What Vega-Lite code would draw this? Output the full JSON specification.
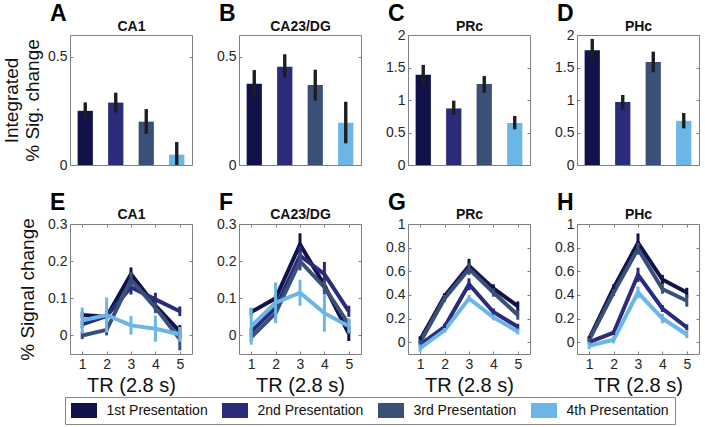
{
  "$schema": "https://vega.github.io/schema/vega-lite/v6.json",
  "padding": {"left": 2, "top": 2, "right": 0, "bottom": 0},
  "background": "white",
  "datasets": {
    "bars": [
      {"region": "CA1", "presentation": "1st Presentation", "value": 0.25, "lo": 0.208, "hi": 0.289},
      {"region": "CA1", "presentation": "2nd Presentation", "value": 0.288, "lo": 0.242, "hi": 0.334},
      {"region": "CA1", "presentation": "3rd Presentation", "value": 0.2, "lo": 0.143, "hi": 0.258},
      {"region": "CA1", "presentation": "4th Presentation", "value": 0.048, "lo": 0.0, "hi": 0.106},
      {"region": "CA23/DG", "presentation": "1st Presentation", "value": 0.375, "lo": 0.308, "hi": 0.438},
      {"region": "CA23/DG", "presentation": "2nd Presentation", "value": 0.454, "lo": 0.403, "hi": 0.511},
      {"region": "CA23/DG", "presentation": "3rd Presentation", "value": 0.369, "lo": 0.298, "hi": 0.44},
      {"region": "CA23/DG", "presentation": "4th Presentation", "value": 0.195, "lo": 0.1, "hi": 0.292},
      {"region": "PRc", "presentation": "1st Presentation", "value": 1.39, "lo": 1.23, "hi": 1.54},
      {"region": "PRc", "presentation": "2nd Presentation", "value": 0.87, "lo": 0.77, "hi": 0.99},
      {"region": "PRc", "presentation": "3rd Presentation", "value": 1.246, "lo": 1.11, "hi": 1.37},
      {"region": "PRc", "presentation": "4th Presentation", "value": 0.646, "lo": 0.549, "hi": 0.754},
      {"region": "PHc", "presentation": "1st Presentation", "value": 1.764, "lo": 1.58, "hi": 1.94},
      {"region": "PHc", "presentation": "2nd Presentation", "value": 0.97, "lo": 0.846, "hi": 1.077},
      {"region": "PHc", "presentation": "3rd Presentation", "value": 1.585, "lo": 1.426, "hi": 1.744},
      {"region": "PHc", "presentation": "4th Presentation", "value": 0.68, "lo": 0.564, "hi": 0.8}
    ],
    "lines": [
      {"region": "CA1", "presentation": "1st Presentation", "tr": 1, "value": 0.055, "lo": 0.047, "hi": 0.063},
      {"region": "CA1", "presentation": "1st Presentation", "tr": 2, "value": 0.05, "lo": 0.04, "hi": 0.06},
      {"region": "CA1", "presentation": "1st Presentation", "tr": 3, "value": 0.165, "lo": 0.147, "hi": 0.183},
      {"region": "CA1", "presentation": "1st Presentation", "tr": 4, "value": 0.08, "lo": 0.068, "hi": 0.092},
      {"region": "CA1", "presentation": "1st Presentation", "tr": 5, "value": 0.01, "lo": -0.008, "hi": 0.028},
      {"region": "CA1", "presentation": "2nd Presentation", "tr": 1, "value": 0.03, "lo": 0.02, "hi": 0.04},
      {"region": "CA1", "presentation": "2nd Presentation", "tr": 2, "value": 0.052, "lo": 0.042, "hi": 0.062},
      {"region": "CA1", "presentation": "2nd Presentation", "tr": 3, "value": 0.13, "lo": 0.11, "hi": 0.15},
      {"region": "CA1", "presentation": "2nd Presentation", "tr": 4, "value": 0.097, "lo": 0.079, "hi": 0.115},
      {"region": "CA1", "presentation": "2nd Presentation", "tr": 5, "value": 0.065, "lo": 0.052, "hi": 0.078},
      {"region": "CA1", "presentation": "3rd Presentation", "tr": 1, "value": 0.0, "lo": -0.01, "hi": 0.01},
      {"region": "CA1", "presentation": "3rd Presentation", "tr": 2, "value": 0.015, "lo": 0.0, "hi": 0.03},
      {"region": "CA1", "presentation": "3rd Presentation", "tr": 3, "value": 0.15, "lo": 0.13, "hi": 0.17},
      {"region": "CA1", "presentation": "3rd Presentation", "tr": 4, "value": 0.075, "lo": 0.06, "hi": 0.09},
      {"region": "CA1", "presentation": "3rd Presentation", "tr": 5, "value": -0.01, "lo": -0.04, "hi": 0.02},
      {"region": "CA1", "presentation": "4th Presentation", "tr": 1, "value": 0.04, "lo": 0.005, "hi": 0.075},
      {"region": "CA1", "presentation": "4th Presentation", "tr": 2, "value": 0.055, "lo": 0.008, "hi": 0.102},
      {"region": "CA1", "presentation": "4th Presentation", "tr": 3, "value": 0.027, "lo": 0.002, "hi": 0.052},
      {"region": "CA1", "presentation": "4th Presentation", "tr": 4, "value": 0.018, "lo": -0.017, "hi": 0.053},
      {"region": "CA1", "presentation": "4th Presentation", "tr": 5, "value": 0.003, "lo": -0.017, "hi": 0.023},
      {"region": "CA23/DG", "presentation": "1st Presentation", "tr": 1, "value": 0.063, "lo": 0.053, "hi": 0.073},
      {"region": "CA23/DG", "presentation": "1st Presentation", "tr": 2, "value": 0.1, "lo": 0.09, "hi": 0.11},
      {"region": "CA23/DG", "presentation": "1st Presentation", "tr": 3, "value": 0.245, "lo": 0.215, "hi": 0.275},
      {"region": "CA23/DG", "presentation": "1st Presentation", "tr": 4, "value": 0.135, "lo": 0.12, "hi": 0.15},
      {"region": "CA23/DG", "presentation": "1st Presentation", "tr": 5, "value": 0.005, "lo": -0.015, "hi": 0.025},
      {"region": "CA23/DG", "presentation": "2nd Presentation", "tr": 1, "value": 0.01, "lo": 0.0, "hi": 0.02},
      {"region": "CA23/DG", "presentation": "2nd Presentation", "tr": 2, "value": 0.075, "lo": 0.063, "hi": 0.087},
      {"region": "CA23/DG", "presentation": "2nd Presentation", "tr": 3, "value": 0.215, "lo": 0.19, "hi": 0.24},
      {"region": "CA23/DG", "presentation": "2nd Presentation", "tr": 4, "value": 0.165, "lo": 0.132, "hi": 0.198},
      {"region": "CA23/DG", "presentation": "2nd Presentation", "tr": 5, "value": 0.065, "lo": 0.05, "hi": 0.08},
      {"region": "CA23/DG", "presentation": "3rd Presentation", "tr": 1, "value": -0.005, "lo": -0.015, "hi": 0.005},
      {"region": "CA23/DG", "presentation": "3rd Presentation", "tr": 2, "value": 0.06, "lo": 0.045, "hi": 0.075},
      {"region": "CA23/DG", "presentation": "3rd Presentation", "tr": 3, "value": 0.2, "lo": 0.175, "hi": 0.225},
      {"region": "CA23/DG", "presentation": "3rd Presentation", "tr": 4, "value": 0.13, "lo": 0.11, "hi": 0.15},
      {"region": "CA23/DG", "presentation": "3rd Presentation", "tr": 5, "value": 0.03, "lo": 0.015, "hi": 0.045},
      {"region": "CA23/DG", "presentation": "4th Presentation", "tr": 1, "value": 0.025, "lo": -0.025, "hi": 0.075},
      {"region": "CA23/DG", "presentation": "4th Presentation", "tr": 2, "value": 0.088, "lo": 0.033, "hi": 0.143},
      {"region": "CA23/DG", "presentation": "4th Presentation", "tr": 3, "value": 0.115, "lo": 0.08, "hi": 0.15},
      {"region": "CA23/DG", "presentation": "4th Presentation", "tr": 4, "value": 0.06, "lo": 0.01, "hi": 0.11},
      {"region": "CA23/DG", "presentation": "4th Presentation", "tr": 5, "value": 0.025, "lo": 0.005, "hi": 0.045},
      {"region": "PRc", "presentation": "1st Presentation", "tr": 1, "value": 0.02, "lo": -0.01, "hi": 0.05},
      {"region": "PRc", "presentation": "1st Presentation", "tr": 2, "value": 0.39, "lo": 0.365, "hi": 0.415},
      {"region": "PRc", "presentation": "1st Presentation", "tr": 3, "value": 0.645, "lo": 0.585, "hi": 0.705},
      {"region": "PRc", "presentation": "1st Presentation", "tr": 4, "value": 0.455, "lo": 0.42, "hi": 0.49},
      {"region": "PRc", "presentation": "1st Presentation", "tr": 5, "value": 0.305, "lo": 0.265, "hi": 0.345},
      {"region": "PRc", "presentation": "2nd Presentation", "tr": 1, "value": -0.02, "lo": -0.04, "hi": 0.0},
      {"region": "PRc", "presentation": "2nd Presentation", "tr": 2, "value": 0.13, "lo": 0.105, "hi": 0.155},
      {"region": "PRc", "presentation": "2nd Presentation", "tr": 3, "value": 0.49, "lo": 0.44, "hi": 0.54},
      {"region": "PRc", "presentation": "2nd Presentation", "tr": 4, "value": 0.255, "lo": 0.225, "hi": 0.285},
      {"region": "PRc", "presentation": "2nd Presentation", "tr": 5, "value": 0.13, "lo": 0.105, "hi": 0.155},
      {"region": "PRc", "presentation": "3rd Presentation", "tr": 1, "value": 0.0, "lo": -0.02, "hi": 0.02},
      {"region": "PRc", "presentation": "3rd Presentation", "tr": 2, "value": 0.37, "lo": 0.34, "hi": 0.4},
      {"region": "PRc", "presentation": "3rd Presentation", "tr": 3, "value": 0.62, "lo": 0.57, "hi": 0.67},
      {"region": "PRc", "presentation": "3rd Presentation", "tr": 4, "value": 0.42, "lo": 0.385, "hi": 0.455},
      {"region": "PRc", "presentation": "3rd Presentation", "tr": 5, "value": 0.23, "lo": 0.19, "hi": 0.27},
      {"region": "PRc", "presentation": "4th Presentation", "tr": 1, "value": -0.05, "lo": -0.08, "hi": -0.02},
      {"region": "PRc", "presentation": "4th Presentation", "tr": 2, "value": 0.1, "lo": 0.08, "hi": 0.12},
      {"region": "PRc", "presentation": "4th Presentation", "tr": 3, "value": 0.37, "lo": 0.34, "hi": 0.4},
      {"region": "PRc", "presentation": "4th Presentation", "tr": 4, "value": 0.21, "lo": 0.185, "hi": 0.235},
      {"region": "PRc", "presentation": "4th Presentation", "tr": 5, "value": 0.09, "lo": 0.065, "hi": 0.115},
      {"region": "PHc", "presentation": "1st Presentation", "tr": 1, "value": 0.03, "lo": 0.01, "hi": 0.05},
      {"region": "PHc", "presentation": "1st Presentation", "tr": 2, "value": 0.46, "lo": 0.43, "hi": 0.49},
      {"region": "PHc", "presentation": "1st Presentation", "tr": 3, "value": 0.84, "lo": 0.76, "hi": 0.92},
      {"region": "PHc", "presentation": "1st Presentation", "tr": 4, "value": 0.53, "lo": 0.49, "hi": 0.57},
      {"region": "PHc", "presentation": "1st Presentation", "tr": 5, "value": 0.42, "lo": 0.38, "hi": 0.46},
      {"region": "PHc", "presentation": "2nd Presentation", "tr": 1, "value": 0.0, "lo": -0.02, "hi": 0.02},
      {"region": "PHc", "presentation": "2nd Presentation", "tr": 2, "value": 0.08, "lo": 0.06, "hi": 0.1},
      {"region": "PHc", "presentation": "2nd Presentation", "tr": 3, "value": 0.57, "lo": 0.51, "hi": 0.63},
      {"region": "PHc", "presentation": "2nd Presentation", "tr": 4, "value": 0.285, "lo": 0.255, "hi": 0.315},
      {"region": "PHc", "presentation": "2nd Presentation", "tr": 5, "value": 0.125, "lo": 0.1, "hi": 0.15},
      {"region": "PHc", "presentation": "3rd Presentation", "tr": 1, "value": 0.02, "lo": 0.0, "hi": 0.04},
      {"region": "PHc", "presentation": "3rd Presentation", "tr": 2, "value": 0.42, "lo": 0.39, "hi": 0.45},
      {"region": "PHc", "presentation": "3rd Presentation", "tr": 3, "value": 0.79, "lo": 0.74, "hi": 0.84},
      {"region": "PHc", "presentation": "3rd Presentation", "tr": 4, "value": 0.45, "lo": 0.41, "hi": 0.49},
      {"region": "PHc", "presentation": "3rd Presentation", "tr": 5, "value": 0.35, "lo": 0.3, "hi": 0.4},
      {"region": "PHc", "presentation": "4th Presentation", "tr": 1, "value": -0.03, "lo": -0.06, "hi": 0.0},
      {"region": "PHc", "presentation": "4th Presentation", "tr": 2, "value": 0.02, "lo": -0.01, "hi": 0.05},
      {"region": "PHc", "presentation": "4th Presentation", "tr": 3, "value": 0.42, "lo": 0.37, "hi": 0.47},
      {"region": "PHc", "presentation": "4th Presentation", "tr": 4, "value": 0.2, "lo": 0.16, "hi": 0.24},
      {"region": "PHc", "presentation": "4th Presentation", "tr": 5, "value": 0.065, "lo": 0.035, "hi": 0.095}
    ]
  },
  "columns": 4,
  "spacing": {"row": 59, "column": 47},
  "bounds": "flush",
  "concat": [
    {
      "width": 122, "height": 130,
      "title": {"text": "A"},
      "data": {"name": "bars"},
      "transform": [{"filter": "datum.region === 'CA1'"}],
      "encoding": {"x": {"field": "presentation", "type": "nominal", "scale": {"paddingInner": 0.5, "paddingOuter": 0.25}, "axis": {"orient": "top", "title": "CA1", "labels": false, "ticks": false, "titleFontSize": 14, "titleFontWeight": "bold", "titlePadding": 2}}},
      "layer": [
        {"mark": "bar", "encoding": {
          "y": {"field": "value", "type": "quantitative", "scale": {"domain": [0, 0.6]}, "axis": {"values": [0, 0.5], "title": ["Integrated", "% Sig. change"], "titlePadding": 5}},
          "color": {"field": "presentation", "type": "nominal", "scale": {"domain": ["1st Presentation", "2nd Presentation", "3rd Presentation", "4th Presentation"], "range": ["#10124a", "#2b2b7b", "#3b5079", "#6bb6e6"]}, "legend": {"orient": "none", "legendX": -5, "legendY": 362, "direction": "horizontal", "columns": 4, "title": null}}}},
        {"mark": {"type": "rule", "strokeWidth": 3.4, "color": "#1e1e1e"}, "encoding": {"y": {"field": "lo", "type": "quantitative", "axis": {"orient": "right", "values": [0, 0.5], "labels": false, "title": null}}, "y2": {"field": "hi"}}}
      ],
      "resolve": {"axis": {"y": "independent"}}
    },
    {
      "width": 122, "height": 130,
      "title": {"text": "B"},
      "data": {"name": "bars"},
      "transform": [{"filter": "datum.region === 'CA23/DG'"}],
      "encoding": {"x": {"field": "presentation", "type": "nominal", "scale": {"paddingInner": 0.5, "paddingOuter": 0.25}, "axis": {"orient": "top", "title": "CA23/DG", "labels": false, "ticks": false, "titleFontSize": 14, "titleFontWeight": "bold", "titlePadding": 2}}},
      "layer": [
        {"mark": "bar", "encoding": {
          "y": {"field": "value", "type": "quantitative", "scale": {"domain": [0, 0.6]}, "axis": {"values": [0, 0.5], "title": null}},
          "color": {"field": "presentation", "type": "nominal", "legend": null}}},
        {"mark": {"type": "rule", "strokeWidth": 3.4, "color": "#1e1e1e"}, "encoding": {"y": {"field": "lo", "type": "quantitative", "axis": {"orient": "right", "values": [0, 0.5], "labels": false, "title": null}}, "y2": {"field": "hi"}}}
      ],
      "resolve": {"axis": {"y": "independent"}}
    },
    {
      "width": 122, "height": 130,
      "title": {"text": "C"},
      "data": {"name": "bars"},
      "transform": [{"filter": "datum.region === 'PRc'"}],
      "encoding": {"x": {"field": "presentation", "type": "nominal", "scale": {"paddingInner": 0.5, "paddingOuter": 0.25}, "axis": {"orient": "top", "title": "PRc", "labels": false, "ticks": false, "titleFontSize": 14, "titleFontWeight": "bold", "titlePadding": 2}}},
      "layer": [
        {"mark": "bar", "encoding": {
          "y": {"field": "value", "type": "quantitative", "scale": {"domain": [0, 2]}, "axis": {"values": [0, 0.5, 1, 1.5, 2], "title": null, "labelOverlap": false}},
          "color": {"field": "presentation", "type": "nominal", "legend": null}}},
        {"mark": {"type": "rule", "strokeWidth": 3.4, "color": "#1e1e1e"}, "encoding": {"y": {"field": "lo", "type": "quantitative", "axis": {"orient": "right", "values": [0, 0.5, 1, 1.5, 2], "labels": false, "title": null}}, "y2": {"field": "hi"}}}
      ],
      "resolve": {"axis": {"y": "independent"}}
    },
    {
      "width": 122, "height": 130,
      "title": {"text": "D"},
      "data": {"name": "bars"},
      "transform": [{"filter": "datum.region === 'PHc'"}],
      "encoding": {"x": {"field": "presentation", "type": "nominal", "scale": {"paddingInner": 0.5, "paddingOuter": 0.25}, "axis": {"orient": "top", "title": "PHc", "labels": false, "ticks": false, "titleFontSize": 14, "titleFontWeight": "bold", "titlePadding": 2}}},
      "layer": [
        {"mark": "bar", "encoding": {
          "y": {"field": "value", "type": "quantitative", "scale": {"domain": [0, 2]}, "axis": {"values": [0, 0.5, 1, 1.5, 2], "title": null, "labelOverlap": false}},
          "color": {"field": "presentation", "type": "nominal", "legend": null}}},
        {"mark": {"type": "rule", "strokeWidth": 3.4, "color": "#1e1e1e"}, "encoding": {"y": {"field": "lo", "type": "quantitative", "axis": {"orient": "right", "values": [0, 0.5, 1, 1.5, 2], "labels": false, "title": null}}, "y2": {"field": "hi"}}}
      ],
      "resolve": {"axis": {"y": "independent"}}
    },
    {
      "width": 122, "height": 130,
      "title": {"text": "E"},
      "data": {"name": "lines"},
      "transform": [{"filter": "datum.region === 'CA1'"}],
      "layer": [
        {"mark": {"type": "line", "strokeWidth": 4}, "encoding": {
          "x": {"field": "tr", "type": "quantitative", "scale": {"domain": [0.5, 5.5]}, "axis": {"values": [1, 2, 3, 4, 5], "title": "TR (2.8 s)", "titleFontSize": 20}},
          "y": {"field": "value", "type": "quantitative", "scale": {"domain": [-0.05, 0.3]}, "axis": {"values": [0, 0.1, 0.2, 0.3], "title": "% Signal change", "titlePadding": 10, "labelOverlap": false}},
          "stroke": {"field": "presentation", "type": "nominal", "scale": {"domain": ["1st Presentation", "2nd Presentation", "3rd Presentation", "4th Presentation"], "range": ["#10124a", "#2b2b7b", "#3b5079", "#6bb6e6"]}, "legend": null}}},
        {"mark": {"type": "rule", "strokeWidth": 3}, "encoding": {
          "x": {"field": "tr", "type": "quantitative", "axis": {"orient": "top", "values": [1, 2, 3, 4, 5], "labels": false, "title": "CA1", "titleFontSize": 14, "titleFontWeight": "bold", "titlePadding": 2}},
          "y": {"field": "lo", "type": "quantitative", "axis": {"orient": "right", "values": [0, 0.1, 0.2, 0.3], "labels": false, "title": null}}, "y2": {"field": "hi"},
          "stroke": {"field": "presentation", "type": "nominal", "legend": null}}}
      ],
      "resolve": {"axis": {"x": "independent", "y": "independent"}}
    },
    {
      "width": 122, "height": 130,
      "title": {"text": "F"},
      "data": {"name": "lines"},
      "transform": [{"filter": "datum.region === 'CA23/DG'"}],
      "layer": [
        {"mark": {"type": "line", "strokeWidth": 4}, "encoding": {
          "x": {"field": "tr", "type": "quantitative", "scale": {"domain": [0.5, 5.5]}, "axis": {"values": [1, 2, 3, 4, 5], "title": "TR (2.8 s)", "titleFontSize": 20}},
          "y": {"field": "value", "type": "quantitative", "scale": {"domain": [-0.05, 0.3]}, "axis": {"values": [0, 0.1, 0.2, 0.3], "title": null, "labelOverlap": false}},
          "stroke": {"field": "presentation", "type": "nominal", "legend": null}}},
        {"mark": {"type": "rule", "strokeWidth": 3}, "encoding": {
          "x": {"field": "tr", "type": "quantitative", "axis": {"orient": "top", "values": [1, 2, 3, 4, 5], "labels": false, "title": "CA23/DG", "titleFontSize": 14, "titleFontWeight": "bold", "titlePadding": 2}},
          "y": {"field": "lo", "type": "quantitative", "axis": {"orient": "right", "values": [0, 0.1, 0.2, 0.3], "labels": false, "title": null}}, "y2": {"field": "hi"},
          "stroke": {"field": "presentation", "type": "nominal", "legend": null}}}
      ],
      "resolve": {"axis": {"x": "independent", "y": "independent"}}
    },
    {
      "width": 122, "height": 130,
      "title": {"text": "G"},
      "data": {"name": "lines"},
      "transform": [{"filter": "datum.region === 'PRc'"}],
      "layer": [
        {"mark": {"type": "line", "strokeWidth": 4}, "encoding": {
          "x": {"field": "tr", "type": "quantitative", "scale": {"domain": [0.5, 5.5]}, "axis": {"values": [1, 2, 3, 4, 5], "title": "TR (2.8 s)", "titleFontSize": 20}},
          "y": {"field": "value", "type": "quantitative", "scale": {"domain": [-0.1, 1]}, "axis": {"values": [0, 0.2, 0.4, 0.6, 0.8, 1], "title": null, "labelOverlap": false}},
          "stroke": {"field": "presentation", "type": "nominal", "legend": null}}},
        {"mark": {"type": "rule", "strokeWidth": 3}, "encoding": {
          "x": {"field": "tr", "type": "quantitative", "axis": {"orient": "top", "values": [1, 2, 3, 4, 5], "labels": false, "title": "PRc", "titleFontSize": 14, "titleFontWeight": "bold", "titlePadding": 2}},
          "y": {"field": "lo", "type": "quantitative", "axis": {"orient": "right", "values": [0, 0.2, 0.4, 0.6, 0.8, 1], "labels": false, "title": null}}, "y2": {"field": "hi"},
          "stroke": {"field": "presentation", "type": "nominal", "legend": null}}}
      ],
      "resolve": {"axis": {"x": "independent", "y": "independent"}}
    },
    {
      "width": 122, "height": 130,
      "title": {"text": "H"},
      "data": {"name": "lines"},
      "transform": [{"filter": "datum.region === 'PHc'"}],
      "layer": [
        {"mark": {"type": "line", "strokeWidth": 4}, "encoding": {
          "x": {"field": "tr", "type": "quantitative", "scale": {"domain": [0.5, 5.5]}, "axis": {"values": [1, 2, 3, 4, 5], "title": "TR (2.8 s)", "titleFontSize": 20}},
          "y": {"field": "value", "type": "quantitative", "scale": {"domain": [-0.1, 1]}, "axis": {"values": [0, 0.2, 0.4, 0.6, 0.8, 1], "title": null, "labelOverlap": false}},
          "stroke": {"field": "presentation", "type": "nominal", "legend": null}}},
        {"mark": {"type": "rule", "strokeWidth": 3}, "encoding": {
          "x": {"field": "tr", "type": "quantitative", "axis": {"orient": "top", "values": [1, 2, 3, 4, 5], "labels": false, "title": "PHc", "titleFontSize": 14, "titleFontWeight": "bold", "titlePadding": 2}},
          "y": {"field": "lo", "type": "quantitative", "axis": {"orient": "right", "values": [0, 0.2, 0.4, 0.6, 0.8, 1], "labels": false, "title": null}}, "y2": {"field": "hi"},
          "stroke": {"field": "presentation", "type": "nominal", "legend": null}}}
      ],
      "resolve": {"axis": {"x": "independent", "y": "independent"}}
    }
  ],
  "config": {
    "font": "Liberation Sans",
    "view": {"stroke": "#7f7f7f", "strokeWidth": 1},
    "axis": {"labelFontSize": 14, "labelColor": "#262626", "titleFontSize": 19, "titleFontWeight": "normal", "titleColor": "#111111", "grid": false, "domain": false, "tickColor": "#7f7f7f", "tickSize": -3, "labelPadding": 6, "format": "~g", "labelOverlap": false, "labelBound": false, "labelFlush": false},
    "title": {"anchor": "start", "frame": "group", "fontSize": 23, "fontWeight": "bold", "color": "#000000", "dx": -20, "offset": -7},
    "legend": {"labelFontSize": 14, "labelColor": "#111111", "symbolType": "M-1.733,-1H1.733V1H-1.733Z", "symbolSize": 225, "symbolOffset": 5.5, "symbolStrokeWidth": 0, "strokeColor": "#888888", "padding": 6, "columnPadding": 14, "labelOffset": 15, "symbolOpacity": 1}
  }
}
